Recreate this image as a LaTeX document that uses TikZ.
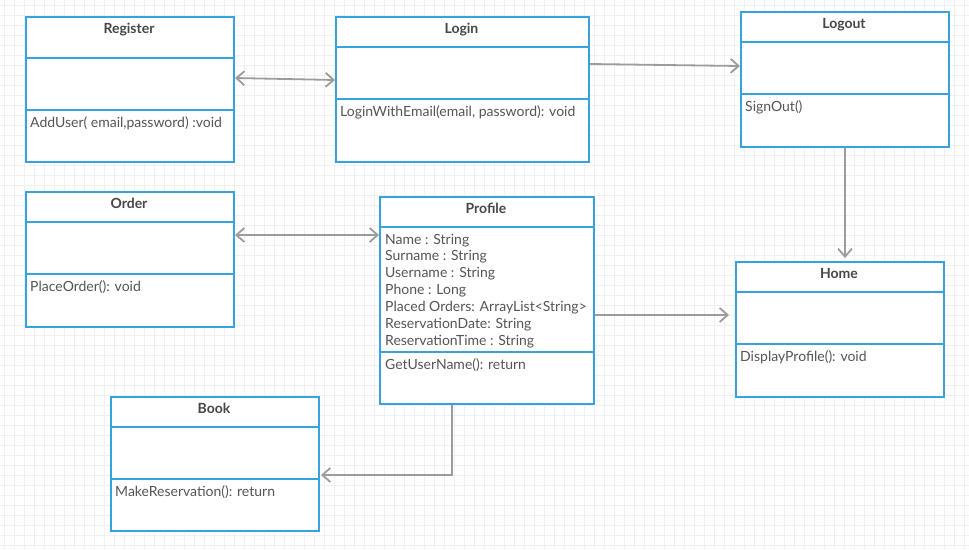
\documentclass[tikz,border=0pt]{standalone}
\usepackage{fontspec}
\setmainfont{Lato}
\usetikzlibrary{arrows.meta}
\definecolor{umlblue}{HTML}{38A2DE}
\definecolor{linkgray}{HTML}{9C9C9C}
\definecolor{titleink}{HTML}{474747}
\definecolor{memberink}{HTML}{555555}
\definecolor{gridgray}{HTML}{F0F0F0}

% \umlclass{name}{left}{top}{width}{height}{first divider}{second divider}{title}
\newcommand\umlclass[8]{%
  \node[classbox, minimum width=#4pt, minimum height=#5pt] (#1) at (#2,#3) {};
  \draw[classrule] (#1.west |- 0,#6) -- (#1.east |- 0,#6);
  \draw[classrule] (#1.west |- 0,#7) -- (#1.east |- 0,#7);
  \node[classtitle] (#1-title) at (#2+#4/2,#3+14.5) {#8};
}

\begin{document}
\begin{tikzpicture}[x=1pt,y=-1pt,
  classbox/.style={draw=umlblue, line width=2pt, fill=white, rectangle,
    anchor=north west, inner sep=0pt},
  classrule/.style={draw=umlblue, line width=2pt},
  classtitle/.style={font=\fontsize{14}{16}\selectfont\bfseries, text=titleink,
    anchor=mid, inner sep=0pt},
  member/.style={font=\fontsize{14}{17}\selectfont, text=memberink,
    anchor=mid west, inner sep=0pt},
  link/.style={draw=linkgray, line width=1.8pt},
  barb/.tip={Straight Barb[length=8pt,width=14pt]},
]
% canvas and grid
\fill[white] (0,0) rectangle (969,549);
\useasboundingbox (0,0) rectangle (969,549);
\foreach \gx in {4,14,...,964} \draw[gridgray, line width=0.7pt] (\gx,0) -- (\gx,549);
\foreach \gy in {5,15,...,545} \draw[gridgray, line width=0.7pt] (0,\gy) -- (969,\gy);

% classes
\umlclass{register}{25}{16}{208}{145}{58}{110}{Register}
\node[member] (register-m1) at (30,124.5) {AddUser( email,password) :void};

\umlclass{login}{335}{16}{253}{145}{47}{99}{Login}
\node[member] (login-m1) at (340,113.5) {LoginWithEmail(email, password): void};

\umlclass{logout}{740}{11}{208}{135}{42}{94}{Logout}
\node[member] (logout-m1) at (745,108.5) {SignOut()};

\umlclass{order}{25}{191}{208}{135}{222}{274}{Order}
\node[member] (order-m1) at (30,288.5) {PlaceOrder(): void};

\umlclass{profile}{379}{196}{214}{207}{227}{352}{Profile}
\node[member] (profile-a1) at (385,241.5) {Name : String};
\node[member] (profile-a2) at (385,258.4) {Surname : String};
\node[member] (profile-a3) at (385,275.3) {Username : String};
\node[member] (profile-a4) at (385,292.2) {Phone : Long};
\node[member] (profile-a5) at (385,309.1) {Placed Orders: ArrayList<String>};
\node[member] (profile-a6) at (385,326) {ReservationDate: String};
\node[member] (profile-a7) at (385,342.9) {ReservationTime : String};
\node[member] (profile-m1) at (385,366.5) {GetUserName(): return};

\umlclass{home}{735}{261}{208}{135}{292}{344}{Home}
\node[member] (home-m1) at (740,358.5) {DisplayProfile(): void};

\umlclass{book}{110}{396}{208}{134}{427}{479}{Book}
\node[member] (book-m1) at (115,493.5) {MakeReservation(): return};

% associations
\draw[link, barb-barb] (register.east |- 0,78) -- (login.west |- 0,80);
\draw[link, -barb] (login.east |- 0,64) -- (logout.west |- 0,66);
\draw[link, barb-barb] (order.east |- 0,235) -- (profile.west |- 0,235);
\draw[link, -barb, shorten >=3pt] (logout.south) -- (logout.south |- home.north);
\draw[link, -barb, shorten >=6pt] (profile.east |- 0,315) -- (home.west |- 0,315);
\coordinate (bookbend) at (452,475);
\draw[link, -barb, shorten >=1pt] (profile.south -| bookbend) -- (bookbend) -- (book.east |- bookbend);
\end{tikzpicture}
\end{document}
